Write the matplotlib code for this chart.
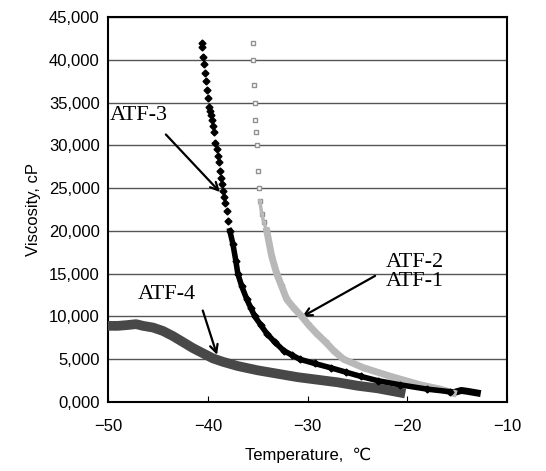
import numpy as np
import matplotlib
matplotlib.use("Agg")
import matplotlib.pyplot as plt
from matplotlib.ticker import FuncFormatter, MultipleLocator

plt.rcParams['font.family'] = ['Liberation Sans', 'DejaVu Sans']

# ATF-3 (black diamonds)
atf3_t = [-40.6, -40.6, -40.5, -40.4, -40.3, -40.2, -40.1, -40.0, -39.9, -39.8,
          -39.7, -39.6, -39.5, -39.4, -39.3, -39.1, -39.0, -38.9, -38.8, -38.7,
          -38.6, -38.5, -38.4, -38.3, -38.1, -38.0, -37.8, -37.5, -37.2, -37.0,
          -36.6, -36.1, -35.7, -35.3, -34.7, -34.1, -33.3, -32.4, -31.6, -30.8,
          -29.3, -27.7, -26.2, -24.7, -23.0, -20.7, -18.0, -15.7]
atf3_v = [42000, 41500, 40300, 39500, 38500, 37500, 36500, 35500, 34500, 34000,
          33500, 33000, 32300, 31500, 30300, 29600, 28700, 28000, 27000, 26200,
          25500, 24700, 24000, 23300, 22300, 21200, 20000, 18500, 16500, 15000,
          13500, 12000, 11000, 10000, 9000, 8000, 7000, 6000, 5500, 5000,
          4500, 4000, 3500, 3000, 2500, 2000, 1500, 1200]

# ATF-2 (light grey squares)
atf2_t = [-35.5, -35.5, -35.4, -35.3, -35.3, -35.2, -35.1, -35.0, -34.9, -34.8,
          -34.6, -34.4, -34.1, -33.6, -33.1, -32.6, -32.1, -31.4, -30.6, -29.9,
          -29.1, -28.2, -27.4, -26.4, -24.4, -21.7, -18.7, -16.7, -15.4]
atf2_v = [42000, 40000, 37000, 35000, 33000, 31500, 30000, 27000, 25000, 23500,
          22000, 21000, 20000, 17000, 15000, 13500, 12000, 11000, 10000, 9000,
          8000, 7000, 6000, 5000, 4000, 3000, 2000, 1500, 1050]

# ATF-1 (dark, mostly hidden under ATF-2, visible at the end)
atf1_t = [-34.1, -33.1, -32.1, -30.6, -29.1, -27.4, -26.4, -24.4, -21.7,
          -18.7, -16.7, -15.2, -14.6, -14.0, -13.5, -13.0]
atf1_v = [20000, 15000, 12000, 10000, 8000, 6000, 5000, 4000, 3000,
          2000, 1500, 1150, 1350, 1250, 1150, 1050]

# ATF-4 (dark grey squares)
atf4_t = [-50.0, -49.0, -48.0, -47.2, -46.5, -45.5, -44.5, -43.5, -42.5, -41.5,
          -40.5, -39.5, -38.5, -37.0, -35.0, -33.0, -31.0, -29.0, -27.0, -25.0,
          -23.0, -20.7]
atf4_v = [8900, 8900, 9000, 9100, 8900, 8700, 8300, 7700, 7000, 6300,
          5700, 5100, 4700, 4200, 3700, 3300, 2900, 2600, 2300, 1900,
          1600, 1100]

fig = plt.figure(figsize=(5.46, 4.71), dpi=100)
ax = fig.add_axes([0.198, 0.1465, 0.731, 0.8175])

ax.plot(atf1_t, atf1_v, color='black', lw=2, zorder=3)
ax.plot(atf1_t[-5:], atf1_v[-5:], color='black', lw=5, zorder=3)
ax.plot(atf2_t, atf2_v, ls='none', marker='s', ms=3,
        mfc='white', mec='#909090', zorder=4)
ax.plot(atf2_t[9:], atf2_v[9:], color='#b8b8b8', lw=2.5, zorder=4)
ax.plot(atf2_t[12:], atf2_v[12:], color='#b8b8b8', lw=5, zorder=4)
ax.plot(atf3_t, atf3_v, color='black', lw=0, marker='D', ms=3.5, zorder=5)
ax.plot(atf3_t[26:], atf3_v[26:], color='black', lw=4, zorder=5)
ax.plot(atf4_t, atf4_v, color='#484848', lw=7, marker='s', ms=3, zorder=4)

ax.set_xlim(-50, -10)
ax.set_ylim(0, 45000)
ax.xaxis.set_major_locator(MultipleLocator(10))
ax.yaxis.set_major_locator(MultipleLocator(5000))
ax.yaxis.set_major_formatter(FuncFormatter(
    lambda v, p: "0,000" if v == 0 else f"{int(v):,}"))
ax.grid(axis='y', color='#555555', lw=1)
ax.set_axisbelow(True)
for s in ax.spines.values():
    s.set_linewidth(1.5)
ax.tick_params(axis='x', direction='in', length=4, labelsize=12, pad=12)
ax.tick_params(axis='y', direction='out', length=0, labelsize=12, pad=6)

ax.set_xlabel("Temperature,  \u2103", fontsize=12, labelpad=10)
ax.set_ylabel("Viscosity, cP", fontsize=12, labelpad=6)

ann = dict(fontsize=16, family=['Liberation Serif', 'DejaVu Serif'])
arrow = dict(arrowstyle='->', lw=1.6, color='black', mutation_scale=14)
ax.text(-49.8, 33000, "ATF-3", **ann)
ax.annotate("", xy=(-38.6, 24300), xytext=(-44.4, 31500), arrowprops=arrow)
ax.text(-47.0, 12000, "ATF-4", **ann)
ax.annotate("", xy=(-39.0, 5200), xytext=(-40.6, 11000), arrowprops=arrow)
ax.text(-22.2, 13600, "ATF-2\nATF-1", linespacing=0.95, **ann)
ax.annotate("", xy=(-30.8, 9800), xytext=(-23.0, 14900), arrowprops=arrow)

fig.savefig("out.png", dpi=100)
